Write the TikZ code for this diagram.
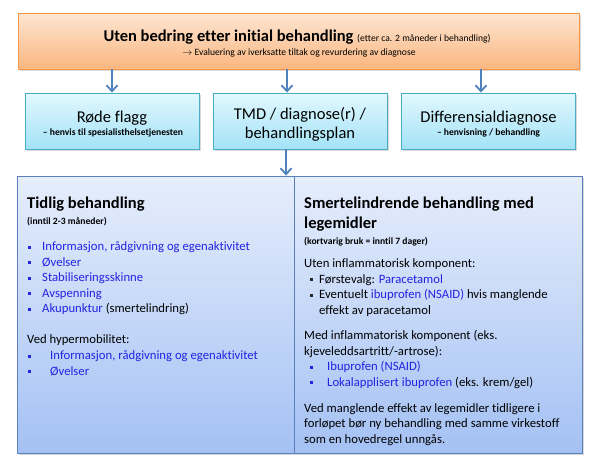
\documentclass[tikz,border=0pt]{standalone}
\usepackage{fontspec}
\setmainfont{Carlito}[Ligatures=NoCommon]
\usetikzlibrary{arrows.meta,positioning,calc,shadows}
\definecolor{orangeline}{HTML}{F79646}
\definecolor{orangetop}{HTML}{FDE6D2}
\definecolor{orangebot}{HTML}{FAB680}
\definecolor{cyanline}{HTML}{4BACC6}
\definecolor{cyantop}{HTML}{E2F8FE}
\definecolor{cyanbot}{HTML}{A3E2F7}
\definecolor{blueline}{HTML}{5A80BC}
\definecolor{bluetop}{HTML}{E6EEFC}
\definecolor{bluebot}{HTML}{A4C1F4}
\definecolor{arrowblue}{HTML}{4F81BD}
\definecolor{itemblue}{HTML}{2323E2}
\tikzset{
  boxshadow/.style={drop shadow={shadow xshift=1.5pt, shadow yshift=-1.5pt, opacity=0.25, fill=black!60}},
  topbox/.style={draw=orangeline, line width=0.9pt, top color=orangetop, bottom color=orangebot, minimum width=561pt, minimum height=56pt, inner sep=0pt, boxshadow},
  midbox/.style={draw=cyanline, line width=0.9pt, top color=cyantop, bottom color=cyanbot, minimum width=174pt, minimum height=56pt, inner sep=0pt, boxshadow},
  bigbox/.style={draw=blueline, line width=0.9pt, top color=bluetop, bottom color=bluebot, minimum height=277pt, inner sep=0pt, boxshadow},
  arrow/.style={-{Straight Barb[length=6pt,width=11pt,line width=1.8pt]}, line width=2pt, draw=arrowblue},
  txt/.style={anchor=base west, inner sep=0pt, font=\fontsize{12.7}{15.5}\selectfont},
  headtxt/.style={anchor=base west, inner sep=0pt, font=\fontsize{16.5}{20}\selectfont\bfseries},
  smalltxt/.style={anchor=base west, inner sep=0pt, font=\fontsize{9.6}{11}\selectfont\bfseries},
  midtxt/.style={anchor=base, inner sep=0pt, font=\fontsize{16.5}{20}\selectfont},
  sq/.style={fill=itemblue, minimum size=3pt, inner sep=0pt}
}
\begin{document}
\begin{tikzpicture}[x=1pt, y=-1pt]
\useasboundingbox (0,0) rectangle (596,472);
% top box
\node[topbox] (top) at (298.5,41) {};
\node[anchor=base, inner sep=0pt] (top-t) at (297,41.5) {\fontsize{16.5}{20}\selectfont\bfseries Uten bedring etter initial behandling \fontsize{9.6}{11}\mdseries\selectfont(etter ca. 2 måneder i behandling)};
\node[anchor=base, inner sep=0pt, font=\fontsize{9.6}{11}\selectfont] (top-s) at (299,55.5) {$\rightarrow$ Evaluering av iverksatte tiltak og revurdering av diagnose};
% middle row
\node[midbox] (rf) at (112,121) {};
\node[midbox] (tmd) at (300,121) {};
\node[midbox] (dd) at (488.5,121) {};
\node[midtxt] (rf-t) at (112,122.3) {Røde flagg};
\node[smalltxt, anchor=base] (rf-s) at (113,135) {-- henvis til spesialisthelsetjenesten};
\node[midtxt] (tmd-t1) at (300,119) {TMD / diagnose(r) /};
\node[midtxt] (tmd-t2) at (300,138.5) {behandlingsplan};
\node[midtxt] (dd-t) at (488.5,122.3) {Differensialdiagnose};
\node[smalltxt, anchor=base] (dd-s) at (488.5,135) {-- henvisning / behandling};
% arrows
\draw[arrow] (top.south -| rf.north) -- (rf.north);
\draw[arrow] ($(top.south -| tmd.north)+(-13,0)$) -- ($(tmd.north)+(-13,0)$);
\draw[arrow] ($(top.south -| dd.north)+(-7.5,0)$) -- ($(dd.north)+(-7.5,0)$);
% bottom boxes
\node[bigbox, minimum width=277pt] (tb) at (155.5,314.5) {};
\node[bigbox, minimum width=288pt] (sb) at (438,314.5) {};
\draw[arrow] ($(tmd.south)+(-14,0)$) -- ($(tmd.south |- tb.north)+(-14,0)$);
% left box text
\node[headtxt] (tb-t) at (27,208.5) {Tidlig behandling};
\node[smalltxt] (tb-s) at (27,224.5) {(inntil 2-3 måneder)};
\foreach \t [count=\i] in {{Informasjon, rådgivning og egenaktivitet}, Øvelser, Stabiliseringsskinne, Avspenning, {Akupunktur \textcolor{black}{(smertelindring)}}}{
  \node[sq] (tb-b\i) at (29.5,{247+15.5*(\i-1)}) {};
  \node[txt, text=itemblue] (tb-\i) at (42,{250.5+15.5*(\i-1)}) {\t};
}
\node[txt] (hm) at (27,343.8) {Ved hypermobilitet:};
\foreach \t [count=\i] in {{Informasjon, rådgivning og egenaktivitet}, Øvelser}{
  \node[sq] (hm-b\i) at (29.5,{356+15.7*(\i-1)}) {};
  \node[txt, text=itemblue] (hm-\i) at (50,{359.5+15.7*(\i-1)}) {\t};
}
% right box text
\node[headtxt] (sb-t1) at (304,208.5) {Smertelindrende behandling med};
\node[headtxt] (sb-t2) at (304,228.5) {legemidler};
\node[smalltxt] (sb-s) at (304,244.5) {(kortvarig bruk = inntil 7 dager)};
\node[txt] (uk) at (304,267) {Uten inflammatorisk komponent:};
\node[sq, fill=black!85] (uk-b1) at (311.5,279.5) {};
\node[txt] (uk-1) at (319,283) {Førstevalg: \textcolor{itemblue}{Paracetamol}};
\node[sq, fill=black!85] (uk-b2) at (311.5,295) {};
\node[txt] (uk-2) at (319,298.5) {Eventuelt \textcolor{itemblue}{ibuprofen (NSAID)} hvis manglende};
\node[txt] (uk-3) at (319,314) {effekt av paracetamol};
\node[txt] (mk) at (304,339.5) {Med inflammatorisk komponent (eks.};
\node[txt] (mk-2) at (304,355) {kjeveleddsartritt/-artrose):};
\node[sq] (mk-b1) at (311.5,367) {};
\node[txt, text=itemblue] (mk-3) at (327,370.5) {Ibuprofen (NSAID)};
\node[sq] (mk-b2) at (311.5,382.5) {};
\node[txt, text=itemblue] (mk-4) at (327,386) {Lokalapplisert ibuprofen \textcolor{black}{(eks. krem/gel)}};
\node[txt] (vm-1) at (304,412) {Ved manglende effekt av legemidler tidligere i};
\node[txt] (vm-2) at (304,427.5) {forløpet bør ny behandling med samme virkestoff};
\node[txt] (vm-3) at (304,443) {som en hovedregel unngås.};
\end{tikzpicture}
\end{document}
